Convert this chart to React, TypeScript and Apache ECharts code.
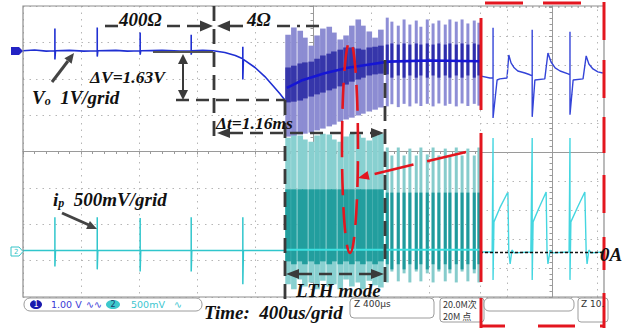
import React, { useEffect, useRef } from "react";
import * as echarts from "echarts";

// ---------- main screen (time in divisions of 400 µs, 0 = screen centre; amplitude in divisions) ----------
const voMainX = [-5, -4.8, -4.6, -4.45, -4.45, -4.45, -4.44, -4.2, -3.95, -3.72, -3.72, -3.72, -3.71, -3.4, -3.2, -2.98, -2.98, -2.98, -2.97, -2.6, -2.3, -2.1, -2.1, -2.1, -2.09, -1.9, -1.72, -1.52, -1.34, -1.21, -1.21, -1.21, -1.2, -1.17, -1.0, -0.83, -0.69, -0.57, -0.48];
const voMainY = [2.77, 2.79, 2.76, 2.77, 3.38, 2.53, 2.77, 2.78, 2.76, 2.77, 3.41, 2.61, 2.77, 2.78, 2.76, 2.77, 3.27, 2.66, 2.77, 2.78, 2.76, 2.77, 3.21, 2.66, 2.77, 2.78, 2.77, 2.72, 2.64, 2.55, 2.88, 1.98, 2.53, 2.5, 2.31, 2.06, 1.81, 1.59, 1.4];

const ipMainX = [-5, -4.45, -4.45, -4.45, -4.44, -3.72, -3.72, -3.72, -3.71, -2.98, -2.98, -2.98, -2.97, -2.1, -2.1, -2.1, -2.09, -1.21, -1.21, -1.21, -1.2, -0.48];
const ipMainY = [-2.72, -2.72, -1.81, -3.16, -2.72, -2.72, -1.81, -3.24, -2.72, -2.72, -1.83, -3.3, -2.72, -2.72, -1.81, -3.3, -2.72, -2.72, -1.81, -3.65, -2.72, -2.72];

// LTH-mode switching pulses (envelopes read per pulse)
const bandX = [-0.43, -0.33, -0.22, -0.14, -0.03, 0.07, 0.17, 0.28, 0.36, 0.47, 0.57, 0.67, 0.78, 0.86, 0.97, 1.07, 1.17, 1.28, 1.36, 1.47, 1.57, 1.67, 1.78, 1.86, 1.97, 2.07, 2.17, 2.28, 2.36, 2.47, 2.57, 2.67, 2.78, 2.86];
const voOuterHi = [3.21, 3.41, 3.32, 3.13, 2.91, 3.19, 3.38, 3.43, 3.27, 3.08, 3.19, 3.46, 3.63, 3.46, 3.3, 3.13, 3.35, 3.68, 3.57, 3.46, 3.63, 3.49, 3.6, 3.43, 3.63, 3.52, 3.6, 3.49, 3.63, 3.57, 3.63, 3.52, 3.6, 3.54];
const voOuterLo = [0.41, 0.44, 0.47, 0.49, 0.52, 0.58, 0.63, 0.69, 0.74, 0.82, 0.88, 0.93, 0.99, 1.04, 1.1, 1.15, 1.21, 1.24, 1.3, 1.22, 1.31, 1.24, 1.32, 1.25, 1.31, 1.24, 1.32, 1.26, 1.31, 1.24, 1.32, 1.25, 1.31, 1.26];
const voInnerHi = [2.31, 2.36, 2.42, 2.45, 2.47, 2.55, 2.64, 2.69, 2.75, 2.8, 2.86, 2.86, 2.83, 2.8, 2.86, 2.88, 2.91, 2.94, 2.97, 2.94, 2.97, 2.94, 2.97, 2.94, 2.97, 2.94, 2.97, 2.94, 2.97, 2.94, 2.97, 2.94, 2.97, 2.94];
const voInnerLo = [1.35, 1.37, 1.4, 1.46, 1.51, 1.57, 1.62, 1.68, 1.73, 1.79, 1.84, 1.92, 1.98, 2.03, 2.09, 2.12, 2.14, 2.12, 2.03, 2.09, 2.03, 2.09, 2.03, 2.09, 2.03, 2.09, 2.03, 2.09, 2.03, 2.09, 2.03, 2.09, 2.03, 2.09];
const voCoreX = [-0.45, -0.2, 0.2, 0.6, 1.0, 1.3, 2.0, 2.88];
const voCoreY = [1.75, 1.95, 2.15, 2.3, 2.4, 2.47, 2.5, 2.48];

const ipOuterHi = [0.38, 0.49, 0.44, 0.33, 0.27, 0.44, 0.49, 0.47, 0.33, 0.27, 0.41, 0.49, 0.47, 0.38, 0.3, 0.44, 0.49, 0.11, -0.11, 0.11, -0.11, 0.08, -0.11, 0.11, -0.08, 0.11, -0.11, 0.08, -0.11, 0.11, -0.11, 0.08, -0.11, 0.11];
const ipOuterLo = [-3.65, -3.79, -3.52, -3.71, -3.6, -3.79, -3.55, -3.71, -3.65, -3.79, -3.52, -3.71, -3.6, -3.79, -3.55, -3.68, -3.74, -3.6, -3.3, -3.57, -3.35, -3.6, -3.3, -3.57, -3.35, -3.6, -3.3, -3.57, -3.35, -3.6, -3.3, -3.57, -3.35, -3.6];
const ipInnerHi = [-1.04, -1.04, -1.04, -1.04, -1.04, -1.04, -1.04, -1.04, -1.04, -1.04, -1.04, -1.04, -1.04, -1.04, -1.04, -1.04, -1.04, -1.13, -1.13, -1.13, -1.13, -1.13, -1.13, -1.13, -1.13, -1.13, -1.13, -1.13, -1.13, -1.13, -1.13, -1.13, -1.13, -1.13];
const ipInnerLo = [-3.02, -3.1, -3.02, -3.1, -3.02, -3.1, -3.02, -3.1, -3.02, -3.1, -3.02, -3.1, -3.02, -3.1, -3.02, -3.1, -3.02, -3.1, -3.24, -3.1, -3.24, -3.1, -3.24, -3.1, -3.24, -3.1, -3.24, -3.1, -3.24, -3.1, -3.24, -3.1, -3.24, -3.1];
const ipCoreX = [-0.48, 2.88];
const ipCoreY = [-2.7, -2.7];

// ---------- zoomed inset (its own divisions) ----------
const voBoxX = [-1.6, -1.38, -1.31, -1.31, -1.31, -1.22, -1.16, -1.0, -0.96, -0.91, -0.84, -0.76, -0.6, -0.49, -0.44, -0.44, -0.44, -0.38, -0.16, -0.09, -0.02, 0.07, 0.18, 0.36, 0.4, 0.4, 0.4, 0.47, 0.69, 0.76, 0.82, 0.91, 1.02, 1.13];
const voBoxY = [2.62, 2.55, 2.55, 4.28, 1.17, 2.48, 2.52, 2.55, 3.34, 3.07, 2.9, 2.79, 2.72, 2.66, 2.62, 4.21, 1.21, 2.48, 2.52, 3.41, 3.1, 2.9, 2.79, 2.69, 2.66, 4.14, 1.28, 2.48, 2.52, 3.31, 3.03, 2.86, 2.76, 2.72];
const ipBoxX = [-1.6, -1.33, -1.31, -1.31, -1.29, -1.16, -0.98, -0.96, -0.93, -0.89, -0.84, -0.47, -0.44, -0.44, -0.42, -0.29, -0.13, -0.11, -0.09, -0.04, 0.0, 0.38, 0.4, 0.4, 0.42, 0.56, 0.73, 0.76, 0.78, 0.82, 0.87, 1.13];
const ipBoxY = [-3.45, -3.45, 0.48, -4.41, -2.41, -1.93, -1.38, -3.45, -3.86, -3.38, -3.48, -3.45, 0.48, -4.41, -2.41, -1.93, -1.38, -3.45, -3.86, -3.38, -3.48, -3.45, 0.48, -4.41, -2.41, -1.93, -1.38, -3.45, -3.86, -3.38, -3.48, -3.45];
const zeroAmpLevel = -3.45;
const boxGridX = [-1, 1];

const zip = (xs: number[], ys: number[]) => xs.map((x, i) => [x, ys[i]]);
const band = (lo: number[], hi: number[], from: number, to: number) =>
  bandX.slice(from, to).map((x, i) => [x, lo[from + i], hi[from + i]]);

const SERIF = '"Liberation Serif", "Times New Roman", serif';
const SANS = '"DejaVu Sans", "Noto Sans", sans-serif';

export default function App() {
  const ref = useRef<HTMLDivElement>(null);
  useEffect(() => {
    const chart = echarts.init(ref.current!, null, { renderer: "svg" });

    const gridLine = { show: true, lineStyle: { color: "#b6b6b6", type: [1.5, 5], width: 1 } };
    const axisLine = { show: true, onZero: true, lineStyle: { color: "#9a9a9a", width: 1 } };
    const tick = { show: true, length: 3, lineStyle: { color: "#9a9a9a" } };
    const minor = { show: true, splitNumber: 5, length: 2.5, lineStyle: { color: "#9a9a9a" } };

    const bandSeries = (data: number[][], color: string, w: number) => ({
      type: "custom",
      xAxisIndex: 0,
      yAxisIndex: 0,
      silent: true,
      data,
      encode: { x: 0, y: [1, 2] },
      renderItem: (_p: any, api: any) => {
        const a = api.coord([api.value(0), api.value(2)]);
        const b = api.coord([api.value(0), api.value(1)]);
        return {
          type: "rect",
          shape: { x: a[0] - w / 2, y: a[1], width: w, height: b[1] - a[1] },
          style: { fill: color },
        };
      },
    });
    const line = (data: number[][], color: string, w: number, xi = 0, extra: any = {}) => ({
      type: "line",
      xAxisIndex: xi,
      yAxisIndex: xi,
      data,
      symbol: "none",
      silent: true,
      lineStyle: { color, width: w },
      ...extra,
    });

    const DK = "#3a3a3a";
    const dash = (x1: number, y1: number, x2: number, y2: number, color = DK, w = 2.6, d = [13, 7]) => ({
      type: "line", z: 100, silent: true,
      shape: { x1, y1, x2, y2 },
      style: { stroke: color, lineWidth: w, lineDash: d },
    });
    const solid = (x1: number, y1: number, x2: number, y2: number, color = DK, w = 2.4) => ({
      type: "line", z: 100, silent: true,
      shape: { x1, y1, x2, y2 },
      style: { stroke: color, lineWidth: w },
    });
    const tri = (pts: number[][], color = DK) => ({
      type: "polygon", z: 100, silent: true, shape: { points: pts }, style: { fill: color },
    });
    const txt = (text: string, x: number, y: number, size: number, extra: any = {}) => ({
      type: "text", z: 101, silent: true, x, y,
      style: {
        text, fontFamily: SERIF, fontSize: size, fontWeight: "bold", fontStyle: "italic",
        fill: "#111", textVerticalAlign: "middle", verticalAlign: "middle", ...extra,
      },
    });
    const small = (text: string, x: number, y: number, color: string, size = 9.5, family = SANS) => ({
      type: "text", z: 101, silent: true, x, y,
      style: { text, fontFamily: family, fontSize: size, fill: color, textVerticalAlign: "middle", verticalAlign: "middle" },
    });
    const rbox = (x: number, y: number, w: number, h: number, r: number) => ({
      type: "rect", z: 99, silent: true, shape: { x, y, width: w, height: h, r },
      style: { fill: "#fff", stroke: "#9c9c9c", lineWidth: 1 },
    });
    const RED = "#e3161f";
    const red = (x1: number, y1: number, x2: number, y2: number) => solid(x1, y1, x2, y2, RED, 3);
    const subRich = (base: number, sub: number) => ({
      a: { fontFamily: SERIF, fontSize: base, fontWeight: "bold", fontStyle: "italic", fill: "#111" },
      s: { fontFamily: SERIF, fontSize: sub, fontWeight: "bold", fontStyle: "italic", fill: "#111", verticalAlign: "bottom", padding: [7, 0, 0, 0] },
    });

    const graphic: any[] = [
      // graticule border
      { type: "rect", z: 50, silent: true, shape: { x: 23, y: 6, width: 581, height: 291 }, style: { fill: "none", stroke: "#8e8e8e", lineWidth: 1.2 } },
      // channel markers
      { type: "polygon", z: 60, shape: { points: [[11, 47], [19, 47], [23, 51], [19, 55], [11, 55]] }, style: { fill: "#2323c4" } },
      { type: "polygon", z: 60, shape: { points: [[11, 247], [19, 247], [23, 251.5], [19, 256], [11, 256]] }, style: { fill: "#fff", stroke: "#35c4c8", lineWidth: 1 } },
      small("2", 14, 251.5, "#35c4c8", 7),
      // 400Ω / 4Ω annotation
      dash(105, 26, 118, 26), dash(167, 26, 201, 26), tri([[200, 20.5], [213, 26], [200, 31.5]]),
      tri([[230, 20.5], [217, 26], [230, 31.5]]), dash(230, 26, 244, 26), dash(277, 26, 300, 26), dash(306, 26, 324, 26),
      txt("400Ω", 119, 19, 19), txt("4Ω", 247, 19, 19),
      dash(214, 6, 214, 142, DK, 2.8, [15, 8]),
      // ΔV
      solid(153, 52, 213, 52, "#555", 2),
      dash(176, 100, 285, 100),
      solid(183, 63, 183, 91, DK, 2), tri([[178, 64], [183, 54], [188, 64]]), tri([[178, 90], [183, 100], [188, 90]]),
      txt("ΔV=1.63V", 90, 77, 17.5),
      // Vo label + pointer
      { type: "text", z: 101, silent: true, x: 32, y: 88, style: { text: "{a|V}{s|o}{a|  1V/grid}", rich: subRich(19, 12) } },
      solid(52, 82, 68, 61, "#444", 3), tri([[74, 53], [71.6, 63.7], [64.4, 58.3]], "#444"),
      // Δt
      tri([[230, 128], [217, 133], [230, 138]]), dash(230, 133, 372, 133), tri([[371, 128], [384, 133], [371, 138]]),
      txt("Δt=1.16ms", 216, 123, 17.5),
      dash(385, 60, 385, 290, DK, 2.8, [15, 8]),
      dash(285, 100, 285, 300, DK, 2.8, [15, 8]),
      // LTH mode
      tri([[299, 269], [286, 274], [299, 279]]), dash(299, 274, 371, 274), tri([[371, 269], [384, 274], [371, 279]]),
      txt("LTH mode", 296, 290, 19),
      // ip label + pointer
      { type: "text", z: 101, silent: true, x: 53, y: 190, style: { text: "{a|i}{s|p}{a|  500mV/grid}", rich: subRich(19, 12) } },
      solid(62, 213, 89, 225, "#444", 3), tri([[97, 229], [86.1, 229.1], [89.9, 220.9]], "#444"),
      // red marks
      { type: "ellipse", z: 100, silent: true, shape: { cx: 350, cy: 147, rx: 8, ry: 106 }, style: { fill: "none", stroke: RED, lineWidth: 2.6, lineDash: [26, 12] } },
      { type: "line", z: 100, silent: true, shape: { x1: 466, y1: 152, x2: 368, y2: 175.5 }, style: { stroke: RED, lineWidth: 2.6, lineDash: [40, 14] } },
      tri([[358, 178], [369.7, 179.8], [367.6, 171]], RED),
      red(485, 3, 523, 3), red(543, 3, 581, 3),
      red(604, 2, 604, 40), red(604, 60, 604, 98), red(604, 117, 604, 153), red(604, 175, 604, 213), red(604, 237, 604, 270), red(604, 293, 604, 328),
      red(481, 18, 481, 110), red(481, 133, 481, 282), red(481, 298, 481, 328),
      red(481, 326, 505, 326), red(538, 326, 575, 326), red(600, 326, 604, 326),
      txt("0A", 600, 254, 19),
      // status bar
      rbox(24, 298, 178, 13, 6),
      { type: "ellipse", z: 100, shape: { cx: 36, cy: 304.5, rx: 6, ry: 4.5 }, style: { fill: "#1a1aae" } },
      small("1", 33.5, 304.5, "#fff", 8),
      small("1.00 V", 51, 304.5, "#3a3ad6"),
      small("∿∿", 86, 304.5, "#3a3ad6"),
      { type: "ellipse", z: 100, shape: { cx: 113, cy: 304.5, rx: 7, ry: 4.5 }, style: { fill: "#3cc8cc" } },
      small("2", 110.5, 304.5, "#1a3a6a", 8),
      small("500mV", 131, 304.5, "#3cc6d0"),
      small("∿", 174, 304.5, "#3cc6d0"),
      txt("Time:  400us/grid", 204, 312, 19),
      rbox(350, 298, 84, 20, 4), small("Z 400µs", 354, 304, "#333", 9),
      rbox(440, 298, 44, 24, 3), small("20.0M次", 443, 304, "#333", 9, '"Noto Sans CJK SC", sans-serif'), small("20M 点", 443, 316, "#333", 9, '"Noto Sans CJK SC", sans-serif'),
      rbox(484, 298, 90, 13, 5),
      rbox(578, 298, 30, 24, 3), small("Z 10.", 581, 304, "#333", 9),
    ];

    chart.setOption({
      animation: false,
      backgroundColor: "#fff",
      grid: [
        { left: 23, top: 6, width: 457, height: 291 },
        { left: 480, top: 6, width: 124, height: 291 },
      ],
      xAxis: [
        { gridIndex: 0, type: "value", min: -5, max: 2.879, interval: 1, splitLine: gridLine, axisLine, axisTick: tick, minorTick: minor, axisLabel: { show: false } },
        { gridIndex: 1, type: "value", min: -1.6, max: 1.156, splitLine: { show: false }, axisLine, axisTick: { show: false }, axisLabel: { show: false } },
      ],
      yAxis: [
        { gridIndex: 0, type: "value", min: -4, max: 4, interval: 1, splitLine: gridLine, axisLine, axisTick: tick, minorTick: minor, axisLabel: { show: false } },
        { gridIndex: 1, type: "value", min: -5, max: 5.03, interval: 1, splitLine: gridLine, axisLine, axisTick: tick, minorTick: minor, axisLabel: { show: false } },
      ],
      graphic: { elements: graphic },
      series: [
        line(zip(voMainX, voMainY), "#1f2fd2", 1.6),
        line(zip(ipMainX, ipMainY), "#30c6cc", 1.5),
        bandSeries(band(ipOuterLo, ipOuterHi, 0, 17), "#88d0d0", 5.6),
        bandSeries(band(ipOuterLo, ipOuterHi, 17, 34), "#86cccc", 3),
        bandSeries(band(ipInnerLo, ipInnerHi, 0, 17), "#229e9e", 5.6),
        bandSeries(band(ipInnerLo, ipInnerHi, 17, 34), "#1f9a9c", 3),
        line(zip(ipCoreX, ipCoreY), "#3ce0e0", 2),
        bandSeries(band(voOuterLo, voOuterHi, 0, 17), "#8c8cd2", 5.6),
        bandSeries(band(voOuterLo, voOuterHi, 17, 34), "#8e8ed6", 3),
        bandSeries(band(voInnerLo, voInnerHi, 0, 17), "#3636aa", 5.6),
        bandSeries(band(voInnerLo, voInnerHi, 17, 34), "#2e2eac", 3),
        line(zip(voCoreX, voCoreY), "#1616d4", 2.6),
        line(zip(voBoxX, voBoxY), "#3444d8", 1.4, 1, {
          markLine: {
            silent: true, symbol: "none", label: { show: false },
            lineStyle: { color: "#b6b6b6", type: [1.5, 5], width: 1 },
            data: boxGridX.map((v) => ({ xAxis: v })),
          },
        }),
        line(zip(ipBoxX, ipBoxY), "#44d6e0", 1.4, 1, {
          markLine: {
            silent: true, symbol: "none", label: { show: false },
            lineStyle: { color: "#111", type: [3, 2], width: 1.3 },
            data: [{ yAxis: zeroAmpLevel }],
          },
        }),
      ],
    });
    return () => chart.dispose();
  }, []);
  return <div ref={ref} style={{ position: "fixed", left: 0, top: 0, width: 638, height: 328, background: "#fff" }} />;
}
